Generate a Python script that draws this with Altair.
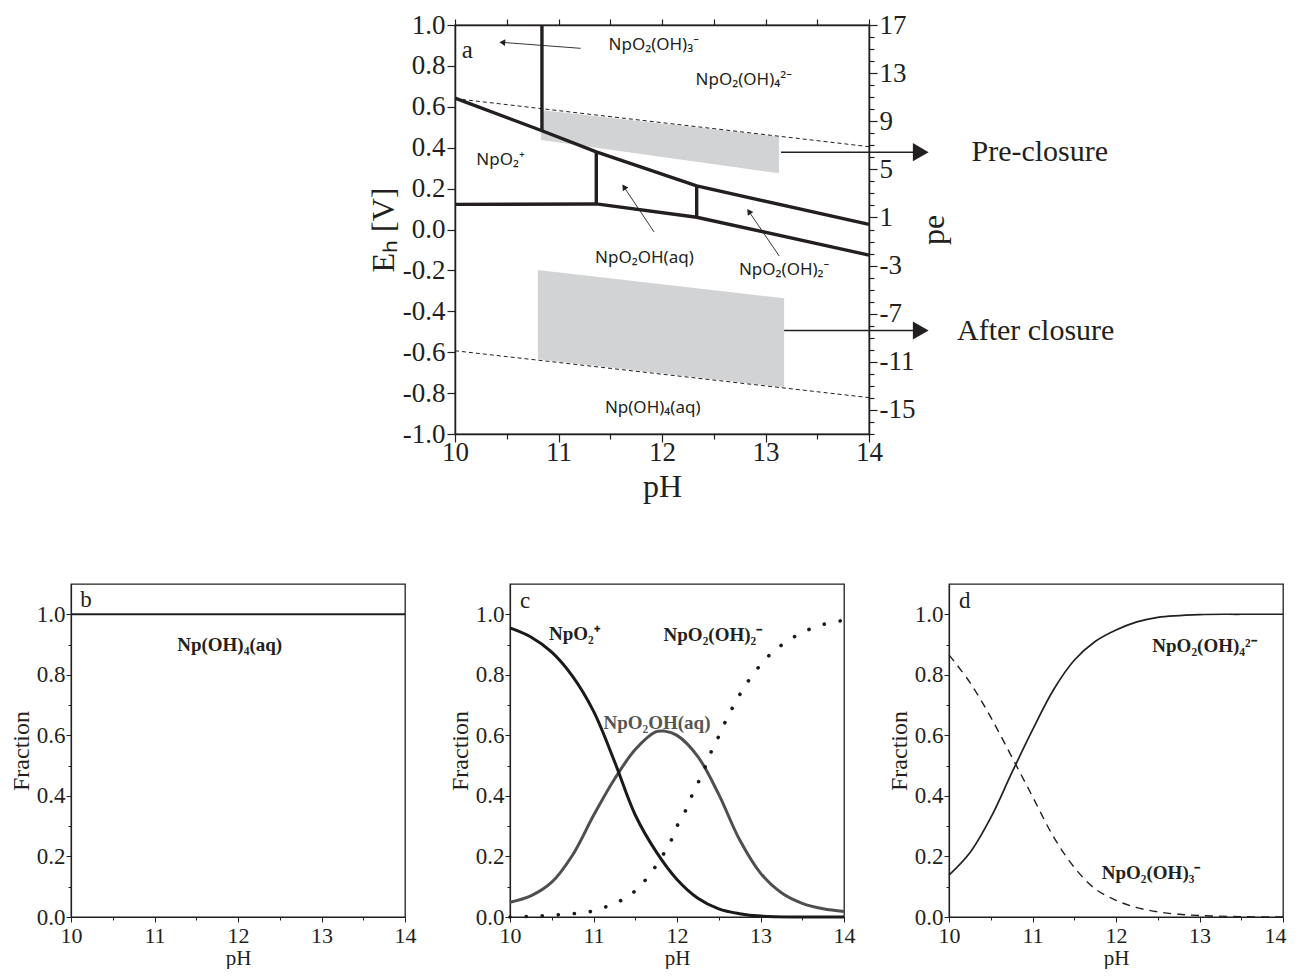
import altair as alt
import numpy as np
import pandas as pd

SERIF = "Liberation Serif"
SANS = "Noto Sans"
INK = "#231f20"
SHADE = "#d1d3d4"
GRAY_LINE = "#4f4f4f"

# ---------------- panel a : Eh-pH diagram ----------------
upper_pH = [10.0, 10.84, 11.365, 12.335, 14.0]
upper_Eh = [0.642, 0.483, 0.380, 0.213, 0.025]
lower_pH = [10.0, 11.365, 12.335, 14.0]
lower_Eh = [0.123, 0.125, 0.060, -0.125]
vert_pH = [10.84, 11.365, 12.335]
vert_top = [1.0, 0.380, 0.213]
vert_bot = [0.483, 0.125, 0.060]

water_pH = [10.0, 14.0]
water_upper = [0.640, 0.405]
water_lower = [-0.593, -0.822]

pre_pH = [10.83, 13.13]
pre_top = [0.584, 0.454]
pre_bot = [0.438, 0.275]
post_pH = [10.80, 13.18]
post_top = [-0.198, -0.336]
post_bot = [-0.635, -0.772]

# label arrows inside the diagram (tail -> head)
arr_tail_pH = [11.214, 11.923, 13.133]
arr_tail_Eh = [0.886, -0.012, -0.130]
arr_head_pH = [10.457, 11.633, 12.840]
arr_head_Eh = [0.915, 0.208, 0.088]

# condition arrows leaving the diagram
cond_names = ["Pre-closure", "After closure"]
cond_start_pH = [13.15, 13.18]
cond_Eh = [0.378, -0.494]
cond_end_pH = [14.50, 14.50]
cond_text_pH = [14.99, 14.85]

species_a = ["NpO\u2082(OH)\u2083\u207b", "NpO\u2082(OH)\u2084\u00b2\u207b", "NpO\u2082\u207a",
             "NpO\u2082OH(aq)", "NpO\u2082(OH)\u2082\u207b", "Np(OH)\u2084(aq)"]
species_a_pH = [11.92, 12.79, 10.44, 11.83, 13.18, 11.91]
species_a_Eh = [0.902, 0.730, 0.340, -0.140, -0.198, -0.873]

pe_range = [-17, 17]

# ---------------- panels b, c, d : fractions ----------------
b_pH = [10.0, 14.0]
b_frac = [1.0, 1.0]

c_npo2_pH = [10.0, 10.25, 10.5, 10.75, 11.0, 11.25, 11.5, 11.75, 12.0, 12.25, 12.5, 12.75,
             13.0, 13.5, 14.0]
c_npo2_f = [0.955, 0.925, 0.875, 0.795, 0.680, 0.515, 0.337, 0.216, 0.124, 0.062, 0.027,
            0.011, 0.003, 0.0, 0.0]
c_oh_pH = [10.0, 10.25, 10.5, 10.75, 11.0, 11.25, 11.5, 11.75, 11.85, 12.0, 12.25, 12.5,
           12.75, 13.0, 13.25, 13.5, 13.75, 14.0]
c_oh_f = [0.049, 0.070, 0.115, 0.205, 0.335, 0.455, 0.553, 0.612, 0.614, 0.600, 0.530,
          0.405, 0.255, 0.145, 0.080, 0.045, 0.027, 0.018]
c_oh2_pH = [10.0, 10.25, 10.5, 10.75, 11.0, 11.25, 11.4, 11.55, 11.7, 11.82, 11.92, 12.0,
            12.1, 12.2, 12.3, 12.4, 12.5, 12.6, 12.7, 12.8, 12.9, 13.05, 13.2, 13.4, 13.6,
            13.8, 14.0]
c_oh2_f = [0.0, 0.002, 0.006, 0.011, 0.020, 0.045, 0.065, 0.100, 0.150, 0.200, 0.247, 0.300,
           0.350, 0.415, 0.470, 0.540, 0.597, 0.657, 0.709, 0.757, 0.797, 0.849, 0.887,
           0.925, 0.952, 0.970, 0.980]

d_oh4_pH = [10.0, 10.25, 10.5, 10.75, 11.0, 11.25, 11.5, 11.75, 12.0, 12.25, 12.5, 13.0,
            13.5, 14.0]
d_oh4_f = [0.138, 0.212, 0.328, 0.475, 0.618, 0.750, 0.848, 0.910, 0.948, 0.975, 0.990,
           0.999, 1.0, 1.0]
d_oh3_pH = [10.0, 10.25, 10.5, 10.75, 11.0, 11.25, 11.5, 11.75, 12.0, 12.25, 12.5, 12.75,
            13.0, 13.5, 14.0]
d_oh3_f = [0.866, 0.775, 0.660, 0.530, 0.398, 0.266, 0.164, 0.093, 0.055, 0.031, 0.017,
           0.009, 0.005, 0.001, 0.0]

# ---------------- sizes ----------------
A_W, A_H = 414, 409
P_W, P_H = 334, 333

xs_a = alt.Scale(domain=[10, 14], nice=False, zero=False)
ys_a = alt.Scale(domain=[-1, 1], nice=False, zero=False)

ph_ticks = [10 + 0.5 * i for i in range(9)]
eh_ticks = [round(-1 + 0.1 * i, 1) for i in range(21)]
pe_ticks = list(range(-17, 18))

MAJOR_PH = "datum.value % 1 == 0"
MAJOR_TENTH = "abs(round(datum.value*10)) % 2 == 0"

x_axis_a = alt.Axis(values=ph_ticks, labelExpr=MAJOR_PH + " ? format(datum.value, 'd') : ''",
                    tickSize={"condition": {"test": MAJOR_PH, "value": 8}, "value": 5},
                    labelFontSize=27, title="pH", titleFontSize=32, titlePadding=6,
                    labelPadding=-3, tickWidth=1.2, domainWidth=1.5, labelFlush=False)
y_axis_a = alt.Axis(values=eh_ticks,
                    labelExpr=MAJOR_TENTH + " ? replace(format(datum.value, '.1f'), '\u2212', '-') : ''",
                    tickSize={"condition": {"test": MAJOR_TENTH, "value": 8}, "value": 5},
                    labelFontSize=27, title="E\u2095 [V]", titleFontSize=32, titlePadding=2,
                    labelPadding=2, tickWidth=1.2, domainWidth=1.5, labelFlush=False)


def lines_df(groups):
    rows = []
    for g, (xs, ys) in groups.items():
        for x, y in zip(xs, ys):
            rows.append({"g": g, "pH": x, "v": y})
    return pd.DataFrame(rows)


X = alt.X("pH:Q", scale=xs_a, axis=x_axis_a)

shade_df = lines_df({"pre": (pre_pH, pre_top), "post": (post_pH, post_top)})
shade_df["v2"] = pre_bot + post_bot
shade = alt.Chart(shade_df).mark_area(color=SHADE, opacity=1).encode(
    x=X, y=alt.Y("v:Q", scale=ys_a, axis=y_axis_a), y2="v2:Q", detail="g:N")

water = alt.Chart(lines_df({"up": (water_pH, water_upper), "lo": (water_pH, water_lower)})).mark_line(
    color=INK, strokeWidth=1, strokeDash=[4, 3]).encode(x=X, y=alt.Y("v:Q", scale=ys_a), detail="g:N")

bounds = alt.Chart(lines_df({"up": (upper_pH, upper_Eh), "lo": (lower_pH, lower_Eh)})).mark_line(
    color=INK, strokeWidth=3.4).encode(x=X, y=alt.Y("v:Q", scale=ys_a), detail="g:N")

verts = alt.Chart(pd.DataFrame({"pH": vert_pH, "t": vert_top, "b": vert_bot})).mark_rule(
    color=INK, strokeWidth=3.4).encode(x=X, y=alt.Y("t:Q", scale=ys_a), y2="b:Q")

# arrow geometry (pixel scale factors used only for arrowhead orientation)
sx, sy = A_W / 4.0, A_H / 2.0
arr_df = pd.DataFrame({"pH": arr_tail_pH, "v": arr_tail_Eh, "pH2": arr_head_pH, "v2": arr_head_Eh})
arr_df["ang"] = [
    (np.degrees(np.arctan2((hx - tx) * sx, (hy - ty) * sy)) + 360) % 360
    for tx, ty, hx, hy in zip(arr_tail_pH, arr_tail_Eh, arr_head_pH, arr_head_Eh)
]
arr_lines = alt.Chart(arr_df).mark_rule(color=INK, strokeWidth=0.9).encode(
    x=X, y=alt.Y("v:Q", scale=ys_a), x2="pH2:Q", y2="v2:Q")
arr_heads = alt.Chart(arr_df).mark_point(shape="triangle-up", filled=True, color=INK, opacity=1,
                                         size=45).encode(
    x=alt.X("pH2:Q", scale=xs_a), y=alt.Y("v2:Q", scale=ys_a), angle=alt.Angle("ang:Q", scale=None))

cond_df = pd.DataFrame({"name": cond_names, "pH": cond_start_pH, "pH2": cond_end_pH,
                        "v": cond_Eh, "tx": cond_text_pH})
cond_lines = alt.Chart(cond_df).mark_rule(color=INK, strokeWidth=1.6).encode(
    x=X, x2="pH2:Q", y=alt.Y("v:Q", scale=ys_a))
cond_heads = alt.Chart(cond_df).mark_point(shape="triangle-right", filled=True, color=INK,
                                           opacity=1, size=330).encode(
    x=alt.X("pH2:Q", scale=xs_a), y=alt.Y("v:Q", scale=ys_a))
cond_text = alt.Chart(cond_df).mark_text(font=SERIF, fontSize=30, align="left", color=INK).encode(
    x=alt.X("tx:Q", scale=xs_a), y=alt.Y("v:Q", scale=ys_a), text="name:N")

lab_a = alt.Chart(pd.DataFrame({"t": species_a, "pH": species_a_pH, "v": species_a_Eh})).mark_text(
    font=SANS, fontSize=17, color=INK).encode(x=X, y=alt.Y("v:Q", scale=ys_a), text="t:N")
letter_a = alt.Chart(pd.DataFrame({"t": ["a"], "pH": [10.12], "v": [0.88]})).mark_text(
    font=SERIF, fontSize=25, color=INK).encode(x=X, y=alt.Y("v:Q", scale=ys_a), text="t:N")

main_a = alt.layer(shade, water, bounds, verts, arr_lines, arr_heads, cond_lines, cond_heads,
                   cond_text, lab_a, letter_a)

frame_df = pd.DataFrame({"pH": [10, 14], "pe": pe_range})
frame = alt.Chart(frame_df).mark_point(opacity=0).encode(
    x=alt.X("pH:Q", scale=alt.Scale(domain=[10, 14], nice=False, zero=False),
            axis=alt.Axis(orient="top", values=ph_ticks, labels=False, title=None, tickSize=6,
                          tickWidth=1.2, domainWidth=1.5)),
    y=alt.Y("pe:Q", scale=alt.Scale(domain=pe_range, nice=False, zero=False),
            axis=alt.Axis(orient="right", values=pe_ticks,
                          labelExpr="(datum.value - 17) % 4 == 0 ? replace(format(datum.value, 'd'), '\u2212', '-') : ''",
                          tickSize={"condition": {"test": "(datum.value - 17) % 4 == 0", "value": 8}, "value": 5},
                          labelFontSize=27, title="pe", titleFontSize=32, titlePadding=36,
                          titleAngle=270, labelPadding=2, tickWidth=1.2, domainWidth=1.5,
                          labelFlush=False)))

panel_a = alt.layer(main_a, frame).resolve_scale(x="independent", y="independent").properties(
    width=A_W, height=A_H)

# ---------------- fraction panels ----------------
xs_f = alt.Scale(domain=[10, 14], nice=False, zero=False)
ys_f = alt.Scale(domain=[0, 1.1], nice=False, zero=False)
f_ticks = [round(0.1 * i, 1) for i in range(11)]


def x_axis_f(last_right=False):
    extra = {}
    if last_right:
        # keep the last tick label inside the page
        extra = dict(labelAlign={"condition": {"test": "datum.value == 14", "value": "right"}, "value": "center"},
                     labelOffset={"condition": {"test": "datum.value == 14", "value": 3}, "value": 0})
    return alt.Axis(values=ph_ticks, labelExpr=MAJOR_PH + " ? format(datum.value, 'd') : ''",
                    tickSize={"condition": {"test": MAJOR_PH, "value": 5}, "value": 3},
                    labelFontSize=22, title="pH", titleFontSize=21, titlePadding=1, labelPadding=3,
                    tickWidth=1, domainWidth=1.2, labelFlush=False, **extra)


y_axis_f = alt.Axis(values=f_ticks,
                    labelExpr=MAJOR_TENTH + " ? format(datum.value, '.1f') : ''",
                    tickSize={"condition": {"test": MAJOR_TENTH, "value": 5}, "value": 3},
                    labelFontSize=23, title="Fraction", titleFontSize=24, titlePadding=3, labelPadding=1,
                    tickWidth=1, domainWidth=1.2, labelFlush=False)
YF = alt.Y("f:Q", scale=ys_f, axis=y_axis_f)


def fraction_panel(curves, label_sets, letter_spec, last_right=False):
    XF = alt.X("pH:Q", scale=xs_f, axis=x_axis_f(last_right))
    layers = []
    for xs, ys, mark in curves:
        layers.append(alt.Chart(pd.DataFrame({"pH": xs, "f": ys})).mark_line(
            interpolate="catmull-rom", **mark).encode(x=XF, y=YF))
    for texts, xs, ys, color in label_sets:
        layers.append(alt.Chart(pd.DataFrame({"t": texts, "pH": xs, "f": ys})).mark_text(
            font=SERIF, fontSize=19, fontWeight="bold", color=color).encode(x=XF, y=YF, text="t:N"))
    t, lx, ly = letter_spec
    layers.append(alt.Chart(pd.DataFrame({"t": [t], "pH": [lx], "f": [ly]})).mark_text(
        font=SERIF, fontSize=23, color=INK).encode(x=XF, y=YF, text="t:N"))
    return alt.layer(*layers).properties(width=P_W, height=P_H)


panel_b = fraction_panel(
    [(b_pH, b_frac, dict(color=INK, strokeWidth=1.8))],
    [(["Np(OH)\u2084(aq)"], [11.9], [0.90], INK)],
    ("b", 10.18, 1.046))

panel_c = fraction_panel(
    [(c_oh_pH, c_oh_f, dict(color=GRAY_LINE, strokeWidth=3)),
     (c_npo2_pH, c_npo2_f, dict(color="#1a1a1a", strokeWidth=3)),
     (c_oh2_pH, c_oh2_f, dict(color="#1a1a1a", strokeWidth=3.6, strokeDash=[0.1, 16], strokeCap="round"))],
    [(["NpO\u2082\u207a", "NpO\u2082(OH)\u2082\u207b"], [10.77, 12.43], [0.935, 0.93], INK),
     (["NpO\u2082OH(aq)"], [11.76], [0.64], "#555555")],
    ("c", 10.18, 1.043))

panel_d = fraction_panel(
    [(d_oh4_pH, d_oh4_f, dict(color=INK, strokeWidth=1.7)),
     (d_oh3_pH, d_oh3_f, dict(color=INK, strokeWidth=1.4, strokeDash=[8, 6]))],
    [(["NpO\u2082(OH)\u2084\u00b2\u207b", "NpO\u2082(OH)\u2083\u207b"], [13.06, 12.42], [0.894, 0.145], INK)],
    ("d", 10.19, 1.043), last_right=True)

bottom = alt.hconcat(panel_b, panel_c, panel_d, spacing=30)

spacer = alt.Chart(pd.DataFrame({"z": [0]})).mark_point(opacity=0).encode(
    x=alt.X("z:Q", axis=None), y=alt.Y("z:Q", axis=None)).properties(
    width=295, height=2, view=alt.ViewBackground(stroke=None))

top = alt.hconcat(spacer, panel_a, spacing=0)

chart = alt.vconcat(top, bottom, spacing=80).properties(
    padding={"left": 0, "top": 2, "right": 0, "bottom": 0}).configure_view(
    stroke=INK, strokeWidth=1.3).configure_axis(
    labelFont=SERIF, titleFont=SERIF, labelColor=INK, titleColor=INK, domainColor=INK,
    tickColor=INK, grid=False, titleFontWeight="normal").configure_concat(spacing=0)

chart.save("out.html", embed_options={"renderer": "svg", "actions": False})
